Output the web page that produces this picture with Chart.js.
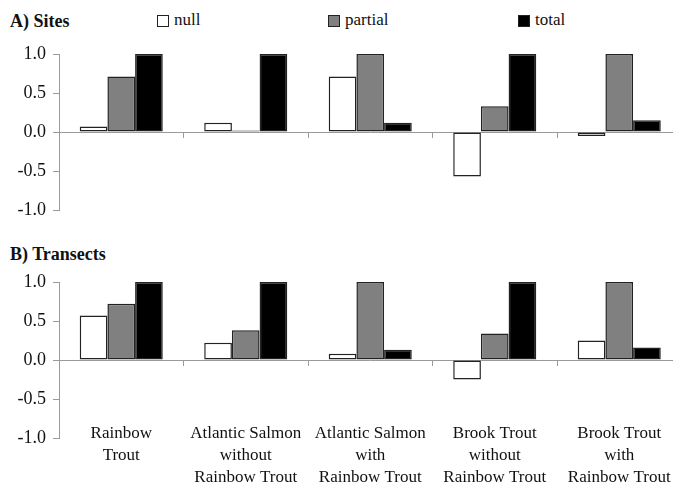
<!DOCTYPE html>
<html>
<head>
<meta charset="utf-8">
<script src="https://cdn.jsdelivr.net/npm/chart.js@4"></script>
<style>
    html, body { margin: 0; padding: 0; background: #fff; }
    body { width: 673px; height: 482px; overflow: hidden; position: relative; font-family: "Liberation Serif", serif; color: #111; }
    canvas { position: absolute; left: 0; }
    .panel-title { position: absolute; left: 10px; font-size: 18px; font-weight: bold; line-height: 20px; }
    .legend-item { position: absolute; top: 10px; font-size: 17px; line-height: 20px; }
    .legend-box { position: absolute; top: 5px; width: 10px; height: 10px; border: 1px solid #222; }
</style>
</head>
<body>
<div class="panel-title" style="top: 11px;">A) Sites</div>
<div class="panel-title" style="top: 244px;">B) Transects</div>
<div class="js-legend"></div>
<canvas class="js-sites" width="690" height="240" style="top: 0;"></canvas>
<canvas class="js-transects" width="690" height="242" style="top: 240px;"></canvas>
<script>
{
    const categories = [
        ["Rainbow", "Trout"],
        ["Atlantic Salmon", "without", "Rainbow Trout"],
        ["Atlantic Salmon", "with", "Rainbow Trout"],
        ["Brook Trout", "without", "Rainbow Trout"],
        ["Brook Trout", "with", "Rainbow Trout"]
    ];
    const series_names = ["null", "partial", "total"];
    const series_colors = ["#ffffff", "#808080", "#000000"];

    const sites_null = [0.07, 0.12, 0.71, -0.57, -0.05];
    const sites_partial = [0.71, 0.02, 1.0, 0.33, 1.0];
    const sites_total = [1.0, 1.0, 0.12, 1.0, 0.15];

    const transects_null = [0.57, 0.22, 0.08, -0.25, 0.25];
    const transects_partial = [0.72, 0.38, 1.0, 0.34, 1.0];
    const transects_total = [1.0, 1.0, 0.13, 1.0, 0.16];

    const y_ticks = [-1.0, -0.5, 0.0, 0.5, 1.0];

    const serif = "'Liberation Serif', 'Times New Roman', serif";
    const axis_gray = "#9a9a9a";

    // legend positions
    const legend_x = [157, 328, 518];

    const make_legend = () => {
        const $legend = document.querySelector(".js-legend");
        series_names.forEach((name, i) => {
            const item = document.createElement("div");
            item.className = "legend-item";
            item.style.left = legend_x[i] + "px";
            item.innerHTML = `<span class="legend-box" style="left:0;background:${series_colors[i]}"></span><span style="margin-left:17px">${name}</span>`;
            $legend.appendChild(item);
        });
    };

    const make_datasets = (values) => values.map((data, i) => ({
        label: series_names[i],
        data: data,
        xAxisID: "x",
        backgroundColor: series_colors[i],
        borderColor: "#222222",
        borderWidth: 1.5,
        borderSkipped: false,
        barPercentage: 1.0,
        categoryPercentage: 0.667
    }));

    const draw_chart = (selector, values, pad, show_labels) => {
        const ctx = document.querySelector(selector).getContext("2d");

        const scales = {
            x: {
                type: "category",
                position: { y: 0 },
                offset: true,
                grid: { offset: true, drawOnChartArea: false, drawTicks: true, tickLength: 5, color: axis_gray },
                border: { display: true, color: axis_gray, width: 1 },
                ticks: { display: false }
            },
            y: {
                min: -1,
                max: 1,
                afterFit: (scale) => { scale.width = 59; },
                afterBuildTicks: (scale) => { scale.ticks = y_ticks.map((v) => ({ value: v })); },
                grid: { drawOnChartArea: false, drawTicks: true, tickLength: 6, color: axis_gray },
                border: { display: true, color: axis_gray, width: 1 },
                ticks: {
                    padding: 7,
                    color: "#111",
                    font: { family: serif, size: 18 },
                    callback: (v) => Number(v).toFixed(1)
                }
            }
        };

        if (show_labels) {
            scales.x2 = {
                type: "category",
                labels: categories,
                position: { y: -1 },
                offset: true,
                grid: { display: false },
                border: { display: false },
                ticks: {
                    padding: -24,
                    maxRotation: 0,
                    autoSkip: false,
                    color: "#111",
                    font: { family: serif, size: 17, lineHeight: 1.3 }
                }
            };
        }

        const chart = new Chart(ctx, {
            type: "bar",
            data: {
                labels: categories,
                datasets: make_datasets(values)
            },
            options: {
                responsive: false,
                animation: false,
                layout: { padding: pad },
                scales: scales,
                plugins: {
                    legend: { display: false },
                    tooltip: { enabled: false }
                }
            }
        });

        chart.update();
    };

    const innit = () => {
        make_legend();
        draw_chart(".js-sites", [sites_null, sites_partial, sites_total],
            { top: 54, bottom: 30, left: 0, right: 8.5 }, false);
        draw_chart(".js-transects", [transects_null, transects_partial, transects_total],
            { top: 42, bottom: 44, left: 0, right: 8.5 }, true);
    };

    innit();
}
</script>
</body>
</html>
